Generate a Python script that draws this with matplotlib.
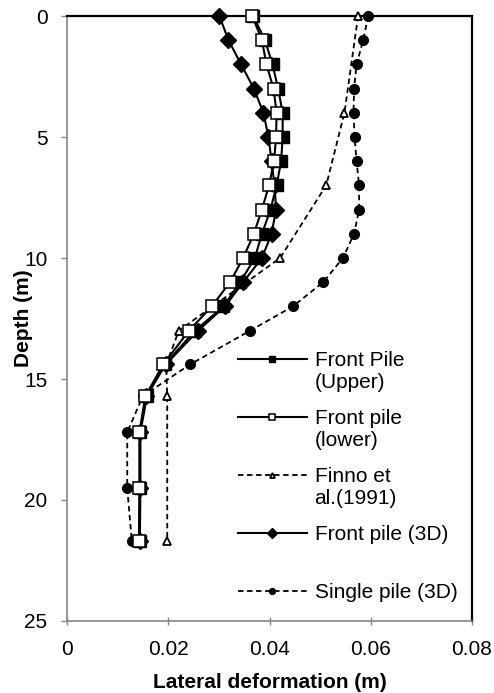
import matplotlib
matplotlib.use("Agg")
import matplotlib.pyplot as plt
from matplotlib.legend_handler import HandlerLine2D

plt.rcParams["font.family"] = ["Liberation Sans", "DejaVu Sans"]

# ─── Data (depth in m, lateral deformation in m) ─────────────────────────────
depth = [0, 1, 2, 3, 4, 5, 6, 7, 8, 9, 10, 11, 12, 13, 14.4, 15.7, 17.2, 19.5, 21.7]

front_upper = [0.0368, 0.0391, 0.0406, 0.0417, 0.0426, 0.0426, 0.0423, 0.0414, 0.0402,
               0.0385, 0.0371, 0.0342, 0.0309, 0.0253, 0.0193, 0.0158, 0.0145, 0.0145, 0.0144]
front_lower = [0.0366, 0.0385, 0.0394, 0.0408, 0.0414, 0.0413, 0.0409, 0.0399, 0.0385,
               0.0369, 0.0348, 0.0322, 0.0286, 0.0241, 0.0190, 0.0155, 0.0143, 0.0143, 0.0142]
front_3d = [0.0301, 0.0319, 0.0344, 0.0369, 0.0388, 0.0398, 0.0404, 0.0410, 0.0413,
            0.0404, 0.0385, 0.0348, 0.0312, 0.0259, 0.0195, 0.0157, 0.0144, 0.0144, 0.0144]
single_3d = [0.0595, 0.0585, 0.0572, 0.0567, 0.0566, 0.0568, 0.0572, 0.0577, 0.0577,
             0.0567, 0.0545, 0.0506, 0.0446, 0.0362, 0.0243, 0.0150, 0.0119, 0.0119, 0.0128]

finno_depth = [0, 4, 7, 10, 13, 14.4, 15.7, 21.7]
finno = [0.0575, 0.0548, 0.0512, 0.0421, 0.0221, 0.0196, 0.0198, 0.0198]

labels = ["Front Pile\n(Upper)", "Front pile\n(lower)", "Finno et\nal.(1991)",
          "Front pile (3D)\n ", "Single pile (3D)"]

FS = 15
LINE_SP = 1.2
DASH = (0, (3, 2))


class FirstLineHandler(HandlerLine2D):
    """Legend handle aligned with the first line of a multi-line label."""

    def __init__(self, n_lines, **kw):
        super().__init__(**kw)
        self.n_lines = n_lines

    def create_artists(self, legend, orig_handle, xdescent, ydescent,
                       width, height, fontsize, trans):
        arts = super().create_artists(legend, orig_handle, xdescent, ydescent,
                                      width, height, fontsize, trans)
        shift = 0.5 * (self.n_lines - 1) * fontsize * LINE_SP
        for a in arts:
            a.set_ydata([y + shift for y in a.get_ydata()])
        return arts


fig = plt.figure(figsize=(4.94, 6.93), dpi=100)
ax = fig.add_axes([0.1356, 0.1039, 0.8199, 0.873])

l1, = ax.plot(front_upper, depth, color="black", lw=1.5, marker="s", ms=8,
              mfc="black", mec="black", clip_on=False, zorder=4)
l2, = ax.plot(front_lower, depth, color="black", lw=1.5, marker="s", ms=8,
              mfc="white", mec="black", mew=1.1, clip_on=False, zorder=5)
l3, = ax.plot(finno, finno_depth, color="black", lw=1.3, ls=DASH, marker="^", ms=6,
              mfc="white", mec="black", mew=1.3, clip_on=False, zorder=3)
l4, = ax.plot(front_3d, depth, color="black", lw=1.5, marker="D", ms=8.5,
              mfc="black", mec="black", clip_on=False, zorder=4)
l5, = ax.plot(single_3d, depth, color="black", lw=1.3, ls=DASH, marker="o", ms=7,
              mfc="black", mec="black", clip_on=False, zorder=3)

ax.set_xlim(0, 0.08)
ax.set_ylim(25, 0)
ax.set_xticks([0, 0.02, 0.04, 0.06, 0.08])
ax.set_xticklabels(["0", "0.02", "0.04", "0.06", "0.08"])
ax.set_yticks([0, 5, 10, 15, 20, 25])

for s in ("top", "right"):
    ax.spines[s].set_color("black")
    ax.spines[s].set_linewidth(1.6)
for s in ("left", "bottom"):
    ax.spines[s].set_color("#868686")
    ax.spines[s].set_linewidth(1.2)

ax.tick_params(axis="y", direction="out", length=4, width=1, color="#868686",
               labelsize=FS, pad=10)
ax.tick_params(axis="x", direction="inout", length=6, width=1, color="#868686",
               labelsize=FS, pad=11)

ax.set_xlabel("Lateral deformation (m)", fontsize=FS, fontweight="bold", labelpad=10)
ax.set_ylabel("Depth (m)", fontsize=FS, fontweight="bold", labelpad=-6)

handles = [l1, l2, l3, l4, l5]
hmap = {h: FirstLineHandler(lab.count("\n") + 1) for h, lab in zip(handles, labels)}
leg = ax.legend(handles, labels, handler_map=hmap, loc="upper left",
                bbox_to_anchor=(0.422, 0.447), frameon=False, fontsize=FS,
                handlelength=3.3, handletextpad=0.38, labelspacing=0.82,
                borderpad=0, borderaxespad=0, markerscale=0.6)
for t in leg.get_texts():
    t.set_linespacing(LINE_SP)

fig.savefig("out.png", dpi=100)
